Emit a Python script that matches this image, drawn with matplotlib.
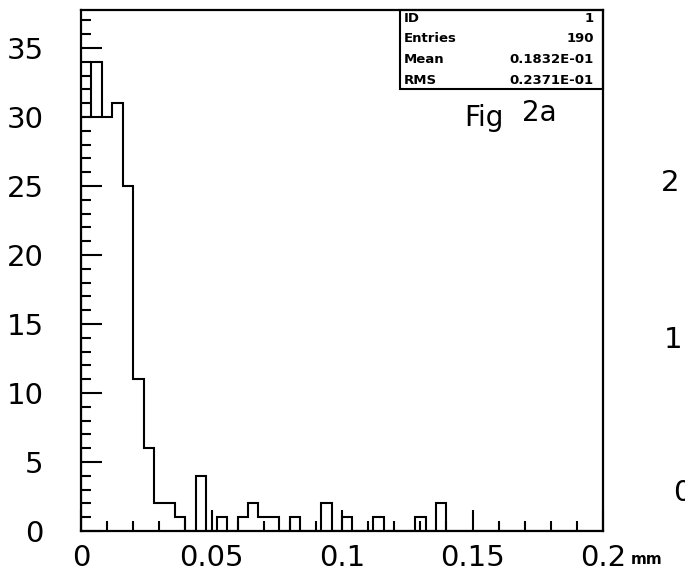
import numpy as np
import matplotlib.pyplot as plt
from matplotlib.ticker import FixedLocator, MultipleLocator
from matplotlib.patches import Rectangle

# residual distance histogram, 50 bins of 0.004 mm between 0 and 0.2 mm
x_lo, x_hi = 0.0, 0.2
counts = [30, 34, 30, 31, 25, 11, 6, 2, 2, 1,
          0, 4, 0, 1, 0, 1, 2, 1, 1, 0,
          1, 0, 0, 2, 0, 1, 0, 0, 1, 0,
          0, 0, 1, 0, 2, 0, 0, 0, 0, 0,
          0, 0, 0, 0, 0, 0, 0, 0, 0, 0]
hist_id = 1

xtick_vals = [0, 0.05, 0.1, 0.15, 0.2]
xtick_labels = ['0', '0.05', '0.1', '0.15', '0.2']
ytick_vals = [0, 5, 10, 15, 20, 25, 30, 35]
ytick_labels = ['0', '5', '10', '15', '20', '25', '30', '35']

counts = np.array(counts)
edges = np.linspace(x_lo, x_hi, len(counts) + 1)
centres = 0.5 * (edges[:-1] + edges[1:])
n_entries = int(counts.sum())
mean = (counts * centres).sum() / n_entries
rms = np.sqrt((counts * centres ** 2).sum() / n_entries - mean ** 2)


def paw_fmt(v):
    e = int(np.floor(np.log10(abs(v)))) + 1
    return f"{v / 10 ** e:.4f}E{e:+03d}"


W, H = 685, 574
fig = plt.figure(figsize=(W / 100, H / 100), dpi=100)
ax = fig.add_axes([81 / W, 43 / H, 522 / W, 521 / H])

ax.stairs(counts, edges, baseline=0, color='black', linewidth=1.5)
ax.set_xlim(x_lo, x_hi)
ax.set_ylim(0, 37.75)

for sp in ax.spines.values():
    sp.set_linewidth(1.6)

ax.xaxis.set_major_locator(FixedLocator(xtick_vals))
ax.xaxis.set_minor_locator(MultipleLocator(0.01))
ax.yaxis.set_major_locator(FixedLocator(ytick_vals))
ax.yaxis.set_minor_locator(MultipleLocator(1))
ax.set_xticklabels(xtick_labels)
ax.set_yticklabels(ytick_labels)

ax.tick_params(which='both', direction='in', top=False, right=False,
               width=1.5, color='black', labelsize=21)
ax.tick_params(which='major', length=15)
ax.tick_params(which='minor', length=7.5)
ax.tick_params(axis='x', pad=9)
ax.tick_params(axis='y', pad=27)

# statistics box in the upper right corner
bx0, by0 = (400 - 81) / 522, (531 - 89) / 521
ax.add_patch(Rectangle((bx0, by0), 1 - bx0, 1 - by0, transform=ax.transAxes,
                       fill=False, edgecolor='black', linewidth=1.5,
                       clip_on=False, zorder=5))
rows = [('ID', str(hist_id)), ('Entries', str(n_entries)),
        ('Mean', paw_fmt(mean)), ('RMS', paw_fmt(rms))]
for i, (name, val) in enumerate(rows):
    ty = (531 - (18.5 + 20.5 * i)) / 521
    ax.text((404 - 81) / 522, ty, name, transform=ax.transAxes,
            fontsize=9.5, weight='bold', ha='left', va='center')
    ax.text((594 - 81) / 522, ty, val, transform=ax.transAxes,
            fontsize=9.5, weight='bold', ha='right', va='center')

# handwritten label
fig.text(484 / W, 1 - 118 / H, 'Fig', fontsize=20,
         ha='center', va='center')
fig.text(539 / W, 1 - 113 / H, '2a', fontsize=20,
         ha='center', va='center')

# unit next to the last x label
fig.text(631 / W, 1 - 564 / H, 'mm', fontsize=11, weight='bold',
         ha='left', va='baseline')

# tick labels of the neighbouring panel at the page edge
for lab, px, py in [('2', 661, 183), ('1', 664, 340), ('0', 673, 493)]:
    fig.text(px / W, 1 - py / H, lab, fontsize=21, ha='left', va='center')

fig.savefig('out.png', dpi=100)
